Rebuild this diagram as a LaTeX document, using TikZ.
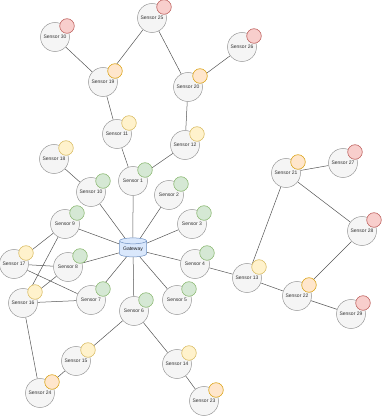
\documentclass[tikz,border=0pt]{standalone}
\usepackage{fontspec}
\setmainfont{Liberation Sans}
\usetikzlibrary{shapes.geometric,backgrounds}
\definecolor{sfill}{HTML}{F5F5F5}
\definecolor{sline}{HTML}{999999}
\definecolor{stext}{HTML}{333333}
\definecolor{eline}{HTML}{555555}
\definecolor{gfill}{HTML}{D5E8D4}\definecolor{gline}{HTML}{82B366}
\definecolor{yfill}{HTML}{FFF2CC}\definecolor{yline}{HTML}{D6B656}
\definecolor{ofill}{HTML}{FFE6CC}\definecolor{oline}{HTML}{D79B00}
\definecolor{rfill}{HTML}{F8CECC}\definecolor{rline}{HTML}{B85450}
\definecolor{bfill}{HTML}{DAE8FC}\definecolor{bline}{HTML}{6C8EBF}
\tikzset{
  sensor/.style={circle, draw=sline, fill=sfill, line width=0.5pt, minimum size=29pt, inner sep=0pt, font=\fontsize{5}{6}\selectfont, text=stext},
  badge/.style={circle, line width=0.5pt, minimum size=14.6pt, inner sep=0pt},
  bg/.style={badge, draw=gline, fill=gfill},
  by/.style={badge, draw=yline, fill=yfill},
  bo/.style={badge, draw=oline, fill=ofill},
  br/.style={badge, draw=rline, fill=rfill},
  link/.style={draw=eline, line width=0.5pt},
  gateway/.style={cylinder, shape border rotate=90, aspect=0.3, draw=bline, fill=bfill, line width=0.5pt, minimum width=27pt, minimum height=19pt, inner sep=0pt, font=\fontsize{5}{6}\selectfont, text=black!90}
}
\begin{document}
\begin{tikzpicture}[x=1pt,y=1pt]
\useasboundingbox (0,0) rectangle (382,416);
\node[gateway] (gw) at (133,167) {Gateway};
\foreach \n/\x/\y/\b in {1/133/235/bg, 2/169/221/bg, 3/192/192/bg, 4/195/152/bg, 5/177/116/bg,
  6/134/105/bg, 7/91/116/bg, 8/68/149/bg, 9/65/192/bg, 10/91/224/bg,
  11/117/282/by, 12/185/271/by, 13/247/138/by, 14/177/52/by, 15/76/55/by,
  16/23/113/by, 17/14/152/by, 18/54/257/by,
  19/103/334/bo, 20/188/329/bo, 21/286/243/bo, 22/297/120/bo, 23/204/15/bo, 24/40/23/bo,
  25/152/398/br, 26/242/369/br, 27/343/253/br, 28/362/185/br, 29/351/102/br, 30/55/379/br}{
  \node[sensor] (s\n) at (\x,\y) {Sensor \n};
  \node[\b] (b\n) at ([shift={(12,11)}]s\n.center) {};
}
\begin{scope}[on background layer]
\foreach \a/\c in {30/19, 19/25, 25/20, 20/26, 20/12, 19/11, 11/1, 12/1, 18/10,
  4/13, 13/21, 21/27, 21/28, 28/22, 13/22, 22/29, 6/15, 15/24, 24/16, 6/14, 14/23,
  17/9, 17/8, 17/7, 16/9, 16/8, 16/7}{
  \draw[link] (s\a) -- (s\c);
}
\foreach \a in {1,2,3,4,5,6,7,8,9,10}{
  \draw[link] (s\a) -- (gw);
}
\end{scope}
\end{tikzpicture}
\end{document}
